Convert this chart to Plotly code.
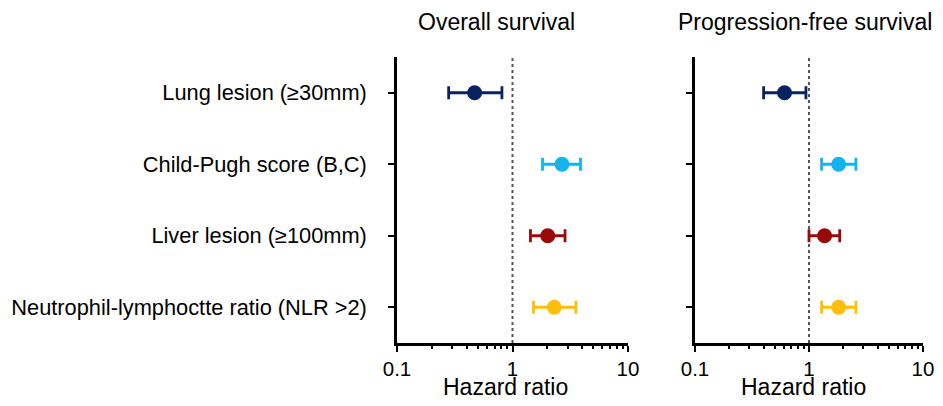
import plotly.graph_objects as go

categories = ["Lung lesion (≥30mm)", "Child-Pugh score (B,C)", "Liver lesion (≥100mm)", "Neutrophil-lymphoctte ratio (NLR >2)"]
colors = ["#0B2261", "#14B4EE", "#9A0A0A", "#FFBE0B"]

os_hr = [0.47, 2.68, 2.02, 2.30]
os_lo = [0.28, 1.82, 1.43, 1.52]
os_hi = [0.81, 3.88, 2.85, 3.54]

pfs_hr = [0.61, 1.82, 1.37, 1.82]
pfs_lo = [0.40, 1.29, 1.00, 1.29]
pfs_hi = [0.94, 2.58, 1.86, 2.58]

panel_titles = ["Overall survival", "Progression-free survival"]
x_title = "Hazard ratio"
tick_vals = [0.1, 1, 10]
tick_text = ["0.1", "1", "10"]
minor_vals = [0.2, 0.3, 0.4, 0.5, 0.6, 0.7, 0.8, 0.9, 2, 3, 4, 5, 6, 7, 8, 9]

# page has an 8px body margin on every side; work in page pixels and convert,
# keeping the figure inside the body so nothing overflows or gets clipped
OFF = 8
W, H = 943 - 2 * OFF, 406 - 2 * OFF
FONT = "Liberation Sans, Arial, sans-serif"


def px(v):
    return (v - OFF) / W


def py(v):
    return 1 - (v - OFF) / H


fig = go.Figure()

panels = [(os_hr, os_lo, os_hi, "x", "y"), (pfs_hr, pfs_lo, pfs_hi, "x2", "y2")]
for hr, lo, hi, xa, ya in panels:
    for i, cat in enumerate(categories):
        fig.add_trace(go.Scatter(
            x=[hr[i]], y=[cat], mode="markers",
            marker=dict(color=colors[i], size=15),
            error_x=dict(type="data", symmetric=False,
                         array=[hi[i] - hr[i]], arrayminus=[hr[i] - lo[i]],
                         color=colors[i], thickness=2.8, width=6.5),
            xaxis=xa, yaxis=ya, showlegend=False, cliponaxis=False,
        ))

dom1 = [px(397), px(628)]
dom2 = [px(695), px(923)]
ydom = [py(343), py(57)]

xcommon = dict(type="log", range=[-1, 1], tickvals=tick_vals, ticktext=tick_text,
               ticks="outside", ticklen=6, tickwidth=2, tickcolor="black",
               showline=True, linecolor="black", linewidth=2.5, showgrid=False,
               zeroline=False, tickfont=dict(family=FONT, size=20.5, color="black"),
               ticklabelstandoff=0, automargin=False,
               minor=dict(tickvals=minor_vals, ticks="outside", ticklen=3, tickwidth=1.5,
                          tickcolor="black", showgrid=False))
ycommon = dict(type="category", categoryarray=categories[::-1], range=[-0.5, 3.5],
               ticks="outside", ticklen=6, tickwidth=2, tickcolor="black",
               showline=True, linecolor="black", linewidth=2.5, showgrid=False,
               zeroline=False, automargin=False)

fig.update_layout(
    width=W, height=H, autosize=False,
    margin=dict(l=0, r=0, t=0, b=0, pad=0),
    paper_bgcolor="white", plot_bgcolor="white",
    xaxis=dict(xcommon, domain=dom1, anchor="y"),
    xaxis2=dict(xcommon, domain=dom2, anchor="y2"),
    yaxis=dict(ycommon, domain=ydom, anchor="x",
               tickfont=dict(family=FONT, size=21.8, color="black"), ticklabelstandoff=17),
    yaxis2=dict(ycommon, domain=ydom, anchor="x2", showticklabels=False),
)

# dotted reference line at HR = 1
for xr, yr in [("x", "y"), ("x2", "y2")]:
    fig.add_shape(type="line", xref=xr, yref=yr + " domain", x0=1, x1=1, y0=0, y1=1,
                  line=dict(color="#555555", width=2, dash="dot"), layer="below")

# panel titles
for t, xc in zip(panel_titles, [497, 805]):
    fig.add_annotation(text=t, x=px(xc), y=py(22), xref="paper", yref="paper",
                       showarrow=False, xanchor="center", yanchor="middle",
                       font=dict(family=FONT, size=23, color="black"))
# x axis titles
for xc in [505, 803]:
    fig.add_annotation(text=x_title, x=px(xc), y=py(387), xref="paper", yref="paper",
                       showarrow=False, xanchor="center", yanchor="middle",
                       font=dict(family=FONT, size=23, color="black"))

fig.write_html("out.html")
